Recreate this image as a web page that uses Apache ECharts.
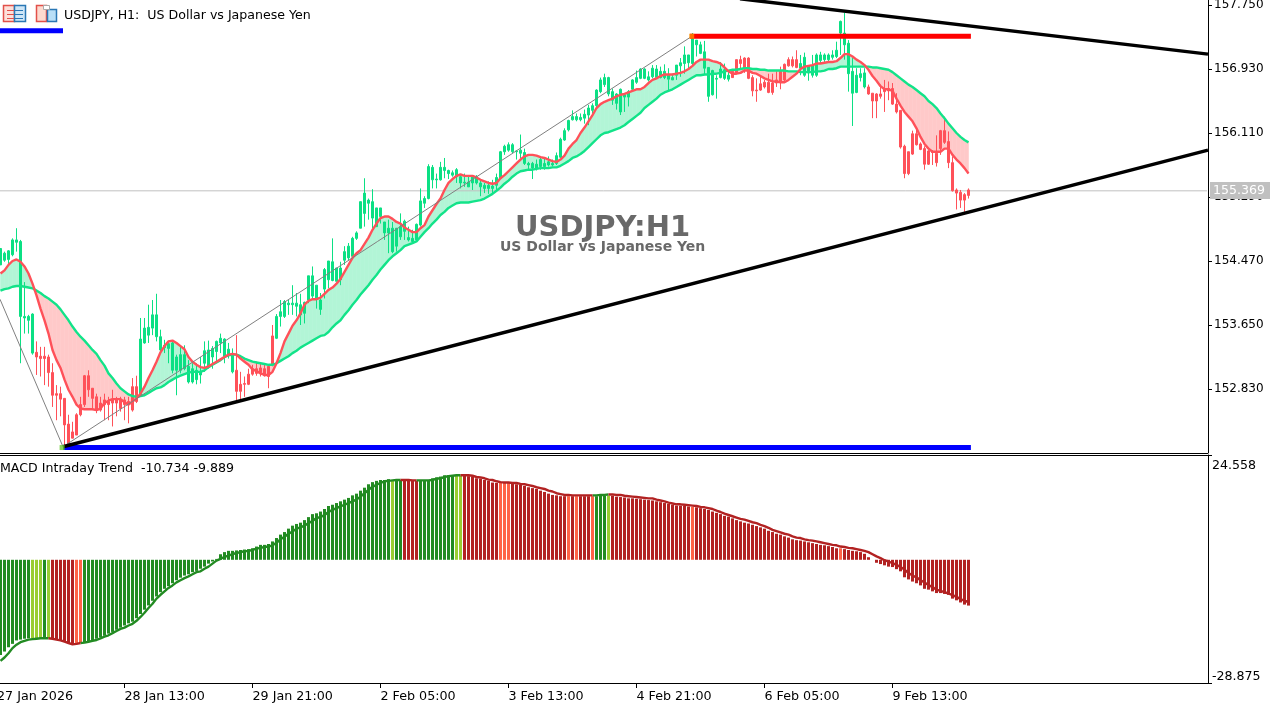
<!DOCTYPE html>
<html>
<head>
<meta charset="utf-8">
<style>
  html, body { margin: 0; padding: 0; background: #fff; overflow: hidden; }
  #chart { width: 1284px; height: 703px; }
</style>
<script src="https://cdn.jsdelivr.net/npm/echarts@6/dist/echarts.min.js"></script>
</head>
<body>
<div id="chart"></div>
<script>
var FONT = "DejaVu Sans";

var tickBars = [0, 31, 63, 95, 127, 159, 191, 223];
var tickLabels = ["27 Jan 2026", "28 Jan 13:00", "29 Jan 21:00", "2 Feb 05:00", "3 Feb 13:00", "4 Feb 21:00", "6 Feb 05:00", "9 Feb 13:00"];
var priceTicks = [152.83, 153.65, 154.47, 155.29, 156.11, 156.93, 157.75];
var macdTicks = [-28.875, 24.558];
var lastPrice = 155.369;

// candle colour runs: g = trend up, r = trend down
var trendRuns = ["g", 9, "r", 26, "g", 24, "r", 10, "g", 114, "r", 17, "g", 17, "r", 26];

var highs = [
  154.63,154.59,154.61,154.76,154.89,154.74,154.20,153.78,153.80,153.44,
  153.37,153.37,153.27,153.16,152.88,152.86,152.71,152.50,152.41,152.52,
  152.73,153.01,153.07,152.84,152.77,152.73,152.77,152.73,152.82,152.73,
  152.73,152.73,152.73,152.97,153.00,153.74,153.74,153.91,153.97,154.05,
  153.59,153.46,153.45,153.45,153.27,153.37,153.39,153.20,153.16,153.16,
  153.24,153.44,153.45,153.38,153.45,153.54,153.48,153.42,153.35,153.52,
  153.05,152.99,153.09,153.14,153.18,153.16,153.16,153.14,153.65,153.79,
  153.97,153.97,153.97,154.16,154.06,154.05,153.95,154.28,154.40,154.16,
  154.06,154.38,154.47,154.76,154.38,154.46,154.66,154.70,154.78,154.85,
  155.23,155.53,155.27,155.39,155.15,155.15,154.97,155.00,154.97,154.89,
  155.08,155.00,154.91,154.87,154.95,155.40,155.30,155.71,155.70,155.59,
  155.74,155.79,155.64,155.63,155.66,155.57,155.59,155.57,155.57,155.57,
  155.51,155.47,155.49,155.51,155.59,155.88,155.96,155.99,155.98,155.89,
  156.09,155.91,155.74,155.74,155.77,155.81,155.79,155.81,155.77,155.86,
  156.05,156.17,156.28,156.40,156.36,156.36,156.41,156.47,156.49,156.67,
  156.82,156.87,156.83,156.68,156.62,156.68,156.60,156.66,156.80,156.91,
  156.94,156.94,156.90,156.98,156.98,156.96,156.99,156.94,156.87,156.98,
  157.07,157.22,157.11,157.39,157.30,157.28,157.29,156.95,156.92,156.85,
  157.02,157.00,156.90,156.90,157.05,157.10,157.08,157.08,156.85,156.81,
  156.85,156.79,156.87,156.87,156.90,156.96,157.00,157.08,157.09,157.17,
  157.11,157.14,156.98,157.11,157.13,157.15,157.13,157.13,157.17,157.28,
  157.55,157.65,157.30,157.07,156.94,156.94,156.94,156.73,156.62,156.62,
  156.73,156.79,156.77,156.75,156.62,156.40,155.96,155.87,156.14,156.15,
  155.99,155.94,155.89,155.89,156.08,156.15,156.32,156.13,155.81,155.40,
  155.38,155.34,155.40
];

var lows = [
  154.42,154.46,154.42,154.53,154.59,153.16,153.54,153.54,153.27,153.01,
  152.99,152.88,152.86,152.60,152.43,152.48,152.09,152.09,152.20,152.24,
  152.48,152.60,152.73,152.56,152.52,152.54,152.43,152.43,152.35,152.48,
  152.54,152.43,152.39,152.54,152.65,152.73,153.41,153.42,153.52,153.44,
  153.31,153.29,153.16,153.03,152.75,153.03,153.07,152.90,152.90,152.89,
  152.90,153.05,153.09,153.09,153.18,153.29,153.16,153.22,153.03,152.67,
  152.67,152.73,152.88,153.00,153.00,152.99,152.99,152.84,153.12,153.47,
  153.63,153.74,153.78,153.78,153.76,153.65,153.67,153.93,153.97,153.86,
  153.78,153.99,154.12,154.21,154.21,154.16,154.42,154.48,154.52,154.74,
  154.89,154.91,155.00,154.89,154.91,154.95,154.74,154.57,154.57,154.59,
  154.74,154.74,154.72,154.70,154.72,154.91,155.15,155.26,155.40,155.40,
  155.50,155.53,155.52,155.55,155.47,155.40,155.42,155.42,155.38,155.45,
  155.30,155.34,155.33,155.32,155.36,155.52,155.83,155.87,155.85,155.77,
  155.79,155.70,155.64,155.52,155.63,155.64,155.64,155.68,155.68,155.70,
  155.79,156.01,156.13,156.27,156.26,156.26,156.23,156.21,156.36,156.43,
  156.62,156.70,156.58,156.47,156.41,156.34,156.38,156.45,156.66,156.74,
  156.80,156.80,156.77,156.81,156.80,156.81,156.80,156.66,156.79,156.79,
  156.83,156.87,156.92,156.98,157.09,157.12,156.85,156.51,156.59,156.55,
  156.81,156.79,156.77,156.82,156.87,156.94,156.88,156.80,156.58,156.51,
  156.65,156.68,156.62,156.60,156.70,156.67,156.75,156.96,156.95,156.94,
  156.85,156.83,156.78,156.82,156.83,157.00,157.00,157.02,157.05,157.07,
  157.11,157.05,156.64,156.20,156.62,156.77,156.68,156.60,156.30,156.30,
  156.55,156.38,156.53,156.47,156.36,155.91,155.53,155.57,155.83,155.95,
  155.89,155.64,155.70,155.70,155.68,155.83,155.97,155.66,155.36,155.13,
  155.15,155.10,155.27
];

var bodyTops = [
  154.63,154.57,154.60,154.74,154.74,154.72,153.76,153.76,153.79,153.30,
  153.25,153.25,153.24,153.04,152.77,152.77,152.71,152.38,152.28,152.50,
  152.63,153.00,153.00,152.84,152.73,152.65,152.69,152.67,152.69,152.69,
  152.69,152.69,152.67,152.86,152.86,153.47,153.61,153.62,153.78,153.78,
  153.50,153.39,153.41,153.42,153.24,153.27,153.27,153.12,153.09,153.07,
  153.05,153.32,153.33,153.35,153.44,153.48,153.47,153.34,153.27,153.07,
  152.89,152.90,153.02,153.09,153.09,153.10,153.09,153.12,153.51,153.76,
  153.82,153.95,153.93,153.93,153.93,153.91,153.94,154.28,154.28,154.16,
  153.97,154.36,154.47,154.46,154.38,154.38,154.59,154.66,154.76,154.83,
  155.23,155.34,155.25,155.23,155.15,155.15,154.97,154.89,154.89,154.89,
  154.91,154.98,154.77,154.76,154.94,155.24,155.27,155.68,155.67,155.52,
  155.67,155.67,155.63,155.60,155.64,155.55,155.48,155.48,155.55,155.55,
  155.47,155.44,155.44,155.43,155.54,155.87,155.94,155.96,155.96,155.88,
  155.89,155.86,155.72,155.72,155.71,155.77,155.72,155.74,155.72,155.82,
  156.03,156.14,156.27,156.32,156.32,156.31,156.35,156.43,156.46,156.66,
  156.79,156.82,156.82,156.64,156.61,156.67,156.60,156.64,156.79,156.82,
  156.93,156.93,156.83,156.94,156.93,156.90,156.90,156.85,156.82,156.98,
  157.01,157.11,157.11,157.32,157.30,157.24,157.15,156.95,156.91,156.81,
  156.93,156.92,156.85,156.90,157.05,157.05,157.07,157.07,156.82,156.66,
  156.74,156.76,156.76,156.75,156.79,156.90,156.99,157.05,157.05,157.05,
  157.00,157.08,156.97,156.97,157.11,157.11,157.11,157.11,157.11,157.17,
  157.54,157.39,157.26,156.90,156.85,156.87,156.88,156.70,156.62,156.61,
  156.61,156.68,156.68,156.68,156.48,156.40,155.94,155.87,156.10,156.10,
  155.97,155.91,155.88,155.87,155.85,156.14,156.14,156.00,155.73,155.38,
  155.35,155.32,155.38
];

var bodyBottoms = [
  154.42,154.48,154.49,154.55,154.71,153.76,153.74,153.71,153.29,153.24,
  153.22,153.22,153.04,152.75,152.75,152.70,152.37,152.11,152.20,152.24,
  152.50,152.63,152.82,152.71,152.56,152.56,152.63,152.63,152.65,152.65,
  152.58,152.63,152.63,152.56,152.67,152.75,153.42,153.52,153.61,153.50,
  153.33,153.36,153.35,153.07,153.07,153.07,153.09,152.92,152.92,152.95,
  153.01,153.16,153.12,153.24,153.31,153.42,153.24,153.27,153.05,152.80,
  152.80,152.89,152.89,153.02,153.03,153.04,153.00,152.99,153.14,153.48,
  153.76,153.76,153.91,153.91,153.89,153.78,153.80,153.97,154.02,153.98,
  153.85,154.11,154.23,154.22,154.21,154.23,154.48,154.51,154.53,154.76,
  154.89,155.08,155.21,155.02,154.91,155.04,154.83,154.83,154.59,154.66,
  154.78,154.85,154.74,154.72,154.74,154.93,155.21,155.27,155.51,155.51,
  155.51,155.63,155.59,155.57,155.55,155.47,155.47,155.42,155.47,155.47,
  155.42,155.40,155.40,155.40,155.44,155.53,155.87,155.89,155.87,155.87,
  155.85,155.72,155.70,155.66,155.66,155.68,155.68,155.70,155.70,155.72,
  155.80,156.02,156.15,156.28,156.28,156.28,156.30,156.34,156.40,156.46,
  156.64,156.73,156.61,156.53,156.49,156.38,156.57,156.57,156.67,156.76,
  156.81,156.81,156.79,156.83,156.82,156.82,156.82,156.80,156.79,156.85,
  156.97,157.00,157.01,157.00,157.24,157.13,156.94,156.58,156.60,156.80,
  156.82,156.81,156.80,156.82,156.88,157.00,156.94,156.81,156.65,156.65,
  156.66,156.70,156.63,156.63,156.75,156.77,156.79,156.97,156.97,156.95,
  156.94,156.85,156.88,156.85,156.85,157.04,157.05,157.05,157.08,157.09,
  157.39,157.24,156.87,156.62,156.63,156.82,156.70,156.61,156.52,156.52,
  156.58,156.64,156.65,156.48,156.38,155.93,155.59,155.59,155.84,155.96,
  155.90,155.71,155.71,155.86,155.73,155.91,155.99,155.73,155.37,155.34,
  155.25,155.25,155.31
];

var fastMA = [
  154.31,154.35,154.42,154.47,154.49,154.46,154.40,154.31,154.18,154.03,
  153.86,153.71,153.54,153.33,153.20,153.10,152.95,152.82,152.73,152.63,
  152.58,152.57,152.57,152.57,152.56,152.58,152.65,152.68,152.70,152.70,
  152.70,152.66,152.63,152.67,152.71,152.77,152.86,152.97,153.07,153.18,
  153.30,153.38,153.44,153.45,153.42,153.38,153.34,153.24,153.18,153.14,
  153.11,153.10,153.12,153.15,153.18,153.21,153.24,153.27,153.28,153.27,
  153.22,153.18,153.14,153.08,153.06,153.03,153.01,153.01,153.05,153.16,
  153.29,153.44,153.54,153.64,153.71,153.80,153.91,153.96,153.98,153.98,
  154.00,154.05,154.10,154.13,154.18,154.24,154.33,154.42,154.51,154.57,
  154.61,154.69,154.77,154.87,154.95,155.02,155.04,155.04,155.01,154.97,
  154.95,154.90,154.87,154.84,154.84,154.89,154.93,155.04,155.12,155.20,
  155.27,155.38,155.47,155.52,155.56,155.58,155.56,155.56,155.56,155.54,
  155.51,155.49,155.47,155.46,155.47,155.53,155.57,155.62,155.67,155.72,
  155.77,155.81,155.83,155.83,155.82,155.80,155.79,155.77,155.75,155.74,
  155.77,155.82,155.91,155.97,156.02,156.11,156.18,156.26,156.34,156.43,
  156.48,156.51,156.53,156.55,156.58,156.60,156.61,156.63,156.65,156.67,
  156.67,156.70,156.75,156.79,156.81,156.84,156.86,156.86,156.86,156.87,
  156.88,156.90,156.93,156.97,157.02,157.05,157.05,157.05,157.03,157.02,
  157.00,156.95,156.90,156.87,156.87,156.88,156.91,156.91,156.88,156.87,
  156.84,156.81,156.79,156.77,156.77,156.76,156.76,156.79,156.83,156.87,
  156.93,156.96,156.97,156.98,157.00,157.00,157.01,157.02,157.02,157.03,
  157.07,157.12,157.12,157.09,157.05,157.02,156.98,156.92,156.84,156.78,
  156.71,156.67,156.67,156.65,156.55,156.46,156.38,156.32,156.26,156.17,
  156.06,155.97,155.91,155.87,155.87,155.87,155.91,155.91,155.83,155.77,
  155.72,155.66,155.59
];

var slowMA = [
  154.09,154.11,154.12,154.14,154.15,154.15,154.14,154.13,154.12,154.09,
  154.06,154.02,153.99,153.95,153.91,153.85,153.78,153.71,153.63,153.56,
  153.50,153.45,153.39,153.33,153.28,153.20,153.13,153.03,152.97,152.90,
  152.84,152.80,152.76,152.74,152.73,152.74,152.75,152.78,152.81,152.84,
  152.85,152.88,152.92,152.95,152.98,153.00,153.02,153.04,153.05,153.05,
  153.05,153.07,153.11,153.14,153.17,153.20,153.24,153.26,153.27,153.27,
  153.25,153.22,153.20,153.18,153.17,153.16,153.15,153.14,153.14,153.16,
  153.19,153.22,153.25,153.29,153.32,153.36,153.39,153.42,153.45,153.48,
  153.51,153.52,153.56,153.62,153.67,153.71,153.78,153.84,153.91,153.97,
  154.04,154.10,154.16,154.23,154.29,154.36,154.42,154.48,154.53,154.57,
  154.61,154.66,154.68,154.70,154.72,154.78,154.84,154.89,154.95,155.00,
  155.06,155.10,155.15,155.18,155.21,155.22,155.22,155.22,155.23,155.24,
  155.25,155.27,155.30,155.33,155.37,155.41,155.46,155.50,155.55,155.59,
  155.62,155.63,155.64,155.64,155.65,155.66,155.66,155.66,155.67,155.67,
  155.69,155.72,155.75,155.79,155.81,155.84,155.88,155.93,155.98,156.03,
  156.08,156.11,156.12,156.14,156.16,156.18,156.21,156.25,156.29,156.33,
  156.37,156.43,156.47,156.51,156.55,156.60,156.63,156.65,156.67,156.70,
  156.73,156.76,156.79,156.82,156.85,156.85,156.86,156.86,156.87,156.87,
  156.88,156.90,156.91,156.92,156.92,156.93,156.94,156.94,156.93,156.93,
  156.92,156.92,156.91,156.91,156.91,156.91,156.91,156.90,156.90,156.90,
  156.89,156.89,156.89,156.89,156.90,156.90,156.91,156.93,156.93,156.94,
  156.96,156.96,156.96,156.96,156.96,156.96,156.96,156.96,156.95,156.95,
  156.94,156.93,156.92,156.89,156.85,156.81,156.77,156.73,156.70,156.66,
  156.62,156.58,156.52,156.48,156.43,156.36,156.30,156.23,156.17,156.11,
  156.06,156.02,155.99
];

var macdHist = [
  -22.3,-21.5,-20.5,-19.7,-18.9,-18.7,-18.5,-18.4,-18.4,-18.4,
  -18.4,-18.4,-18.4,-18.4,-18.6,-18.8,-19.1,-19.5,-19.6,-19.7,
  -19.5,-19.4,-19.1,-18.8,-18.5,-18.2,-17.8,-17.3,-16.9,-16.4,
  -15.9,-15.4,-14.9,-14.5,-13.7,-12.7,-11.7,-10.7,-9.6,-8.6,
  -7.6,-6.8,-6.2,-5.5,-4.8,-4.2,-3.7,-3.4,-2.9,-2.6,
  -2.1,-1.6,-0.9,-0.4,0.2,1.3,1.8,2.1,2.1,2.2,
  2.3,2.4,2.5,2.7,3.1,3.5,3.5,3.7,4.3,5.1,
  5.9,6.5,7.3,8.0,8.4,8.7,9.3,10.0,10.7,10.9,
  11.3,11.9,12.6,12.9,13.3,13.7,14.1,14.5,15.1,15.5,
  16.2,16.9,17.7,18.2,18.5,18.7,18.7,18.9,18.7,18.7,
  18.7,18.8,18.7,18.6,18.5,18.6,18.7,18.7,19.1,19.3,
  19.5,19.8,19.8,19.8,19.7,19.7,19.8,19.6,19.5,19.1,
  19.0,18.7,18.5,18.1,18.0,18.0,18.0,18.0,17.8,17.7,
  17.6,17.3,17.0,16.8,16.6,16.2,15.9,15.5,15.2,15.1,
  14.9,14.9,14.9,14.9,14.9,14.9,14.9,14.9,14.9,14.9,
  15.0,15.0,15.0,15.0,14.8,14.7,14.6,14.4,14.4,14.3,
  14.2,14.1,14.0,13.9,13.7,13.5,13.3,13.1,12.9,12.7,
  12.7,12.6,12.5,12.4,12.3,12.1,11.9,11.7,11.3,11.0,
  10.7,10.3,10.1,9.7,9.3,9.0,8.7,8.5,8.2,7.9,
  7.6,7.3,6.8,6.5,6.1,5.9,5.5,5.2,4.8,4.6,
  4.5,4.3,4.1,3.9,3.7,3.5,3.4,3.2,3.0,2.7,
  2.7,2.5,2.3,2.1,2.0,1.8,1.4,0.6,0.0,-0.7,
  -1.0,-1.3,-1.6,-1.7,-2.2,-2.7,-4.1,-4.6,-5.1,-5.5,
  -6.0,-6.8,-7.0,-7.4,-7.8,-7.8,-8.0,-8.2,-9.1,-9.5,
  -10.0,-10.5,-10.73
];

var macdSignal = [
  -23.7,-22.9,-21.9,-20.7,-19.9,-19.3,-19.0,-18.7,-18.6,-18.5,
  -18.4,-18.4,-18.4,-18.5,-18.7,-18.9,-19.2,-19.5,-19.8,-19.7,
  -19.5,-19.4,-19.2,-19.0,-18.8,-18.4,-18.0,-17.7,-17.2,-16.7,
  -16.2,-15.9,-15.4,-15.0,-14.3,-13.4,-12.4,-11.3,-10.3,-9.1,
  -8.2,-7.4,-6.6,-6.0,-5.3,-4.8,-4.3,-3.9,-3.4,-2.9,
  -2.7,-2.1,-1.6,-0.9,-0.2,0.2,0.7,1.0,1.3,1.6,
  1.8,2.0,2.1,2.3,2.6,2.8,3.0,3.1,3.4,4.0,
  4.8,5.4,6.1,6.6,7.3,7.6,8.0,8.6,9.1,9.8,
  10.0,10.5,11.2,11.7,12.1,12.5,12.9,13.3,13.7,14.1,
  14.8,15.6,16.4,17.1,17.6,18.0,18.4,18.5,18.6,18.7,
  18.7,18.7,18.7,18.6,18.6,18.6,18.6,18.6,18.7,19.0,
  19.1,19.4,19.6,19.7,19.8,19.8,19.8,19.8,19.7,19.4,
  19.3,19.1,18.8,18.7,18.4,18.2,18.1,18.1,18.0,18.0,
  17.8,17.7,17.5,17.3,17.0,16.8,16.6,16.2,16.0,15.6,
  15.4,15.2,15.2,15.1,15.1,15.1,15.1,15.1,15.1,15.1,
  15.2,15.2,15.3,15.3,15.2,15.2,15.0,14.9,14.8,14.7,
  14.6,14.5,14.4,14.4,14.1,13.9,13.7,13.4,13.2,13.0,
  13.0,12.9,12.8,12.7,12.6,12.4,12.3,12.1,11.9,11.5,
  11.2,10.8,10.5,10.2,9.9,9.6,9.4,9.1,8.8,8.6,
  8.2,7.9,7.5,7.0,6.7,6.4,6.1,5.9,5.5,5.2,
  5.1,4.8,4.6,4.5,4.3,4.1,3.9,3.7,3.5,3.4,
  3.1,3.0,2.8,2.7,2.5,2.3,2.1,1.8,1.3,0.8,
  0.4,-0.1,-0.4,-0.8,-1.2,-1.7,-2.3,-3.1,-3.7,-4.1,
  -4.8,-5.3,-5.9,-6.4,-7.0,-7.3,-7.6,-7.9,-8.3,-8.7,
  -9.2,-9.6,-9.89
];

// histogram colour runs: g/l = green/light green, r/t = red/tomato
var histRuns = ["g",8,"l",3,"g",1,"l",1,"r",6,"t",2,"g",77,"l",1,"g",2,"r",4,"g",9,"l",2,"r",9,"t",3,"r",14,"t",1,"r",1,"t",1,"r",3,"t",1,"g",3,"l",1,"r",20,"t",1,"r",36,"t",1,"r",32];

// drawn objects, x in bars, y in price
var lowerTrend = [[15.625, 152.09], [301.875, 155.89]];
var upperTrend = [[184.875, 157.83], [301.875, 157.12]];
var zigzagA = [[-0.125, 153.98], [15.625, 152.09]];
var zigzagB = [[15.625, 152.09], [172.875, 157.35]];
var blueLevel = [[15.625, 152.08], [242.6, 152.08]];
var blueStub = [[-0.5, 157.42], [15.625, 157.42]];
var redLevel = [[172.4, 157.35], [242.6, 157.35]];
var priceLine = [[-0.5, lastPrice], [301.875, lastPrice]];

var GREEN = "#0BE084";
var RED = "#FF5159";
var histColors = { g: "#228B22", l: "#9ACD32", r: "#B22222", t: "#FF6347" };

function expandRuns(runs) {
  var out = [];
  for (var r = 0; r < runs.length; r += 2) {
    for (var n = 0; n < runs[r + 1]; n++) out.push(runs[r]);
  }
  return out;
}

var trend = expandRuns(trendRuns);
var histFlags = expandRuns(histRuns);

function isUpBar(k) {
  return histFlags[k] === "g" || histFlags[k] === "l";
}

var categories = [];
var candleData = [];
var histData = [];
var signalUp = [];
var signalDown = [];
for (var i = 0; i < 302; i++) {
  var t = tickBars.indexOf(i);
  categories.push(t > 0 ? tickLabels[t] : "");
}
for (var j = 0; j < highs.length; j++) {
  candleData.push(trend[j] === "g"
    ? [bodyBottoms[j], bodyTops[j], lows[j], highs[j]]
    : [bodyTops[j], bodyBottoms[j], lows[j], highs[j]]);
  histData.push({ value: macdHist[j], itemStyle: { color: histColors[histFlags[j]] } });
  var isUp = isUpBar(j);
  var nextUp = j + 1 < histFlags.length ? isUpBar(j + 1) : isUp;
  signalUp.push(isUp || nextUp ? macdSignal[j] : null);
  signalDown.push(!isUp || !nextUp ? macdSignal[j] : null);
}

function renderCloud(params, api) {
  var k = api.value(0);
  if (k >= fastMA.length - 1) return;
  var d0 = fastMA[k] - slowMA[k];
  var d1 = fastMA[k + 1] - slowMA[k + 1];
  function poly(points, color) {
    return { type: "polygon", shape: { points: points }, style: { fill: color, stroke: color, lineWidth: 0.6 } };
  }
  var colorOf = function(d) { return d >= 0 ? "#B2F5D6" : "#FFC9C9"; };
  var a0 = api.coord([k, fastMA[k]]), b0 = api.coord([k, slowMA[k]]);
  var a1 = api.coord([k + 1, fastMA[k + 1]]), b1 = api.coord([k + 1, slowMA[k + 1]]);
  if (d0 * d1 >= 0) {
    return poly([a0, a1, b1, b0], colorOf(d0 + d1));
  }
  var f = d0 / (d0 - d1);
  var c = [a0[0] + (a1[0] - a0[0]) * f, a0[1] + (a1[1] - a0[1]) * f];
  return { type: "group", children: [poly([a0, c, b0], colorOf(d0)), poly([c, a1, b1], colorOf(d1))] };
}

function objectLine(data, color, width, z) {
  return {
    type: "line", xAxisIndex: 2, yAxisIndex: 0, data: data, symbol: "none", clip: false, z: z,
    silent: true, lineStyle: { color: color, width: width, cap: "butt" }
  };
}

var chart = echarts.init(document.getElementById("chart"), null, { renderer: "canvas" });

var option = {
  animation: false,
  backgroundColor: "#fff",
  textStyle: { fontFamily: FONT },
  grid: [
    { left: -1.5, top: 0, width: 1208, height: 453, outerBoundsMode: "none" },
    { left: -1.5, top: 455, width: 1208, height: 228, outerBoundsMode: "none" }
  ],
  xAxis: [
    { type: "category", gridIndex: 0, data: categories, show: false },
    {
      type: "category", gridIndex: 1, data: categories, position: "bottom",
      axisLine: { show: false, onZero: false },
      axisTick: {
        show: true, alignWithLabel: true, length: 5, lineStyle: { color: "#000" },
        interval: function(index) { return tickBars.indexOf(index) > 0; }
      },
      axisLabel: {
        show: true, align: "left", margin: 7, color: "#000", fontFamily: FONT, fontSize: 12.7, hideOverlap: false,
        interval: function(index) { return tickBars.indexOf(index) > 0; }
      },
      splitLine: { show: false }
    },
    { type: "value", gridIndex: 0, min: -0.5, max: 301.5, show: false }
  ],
  yAxis: [
    {
      type: "value", gridIndex: 0, position: "right", offset: 1.5, min: 152.01, max: 157.814, scale: true,
      splitLine: { show: false },
      axisLine: { show: true, onZero: false, lineStyle: { color: "#000" } },
      axisTick: { show: true, length: 4, lineStyle: { color: "#000" }, customValues: priceTicks },
      axisLabel: {
        color: "#000", fontFamily: FONT, fontSize: 12, margin: 6, padding: [4, 0, 0, 0], customValues: priceTicks,
        formatter: function(v) { return v.toFixed(3); }
      }
    },
    {
      type: "value", gridIndex: 1, position: "right", offset: 1.5, min: -28.875, max: 24.558,
      splitLine: { show: false },
      axisLine: { show: true, onZero: false, lineStyle: { color: "#000" } },
      axisTick: { show: true, length: 4, lineStyle: { color: "#000" }, customValues: macdTicks },
      axisLabel: {
        color: "#000", fontFamily: FONT, fontSize: 12.6, margin: 4, lineHeight: 12, padding: [5, 0, 0, 0], customValues: macdTicks,
        verticalAlignMinLabel: "bottom", verticalAlignMaxLabel: "top",
        formatter: function(v) { return v.toFixed(3); }
      }
    }
  ],
  series: [
    {
      type: "custom", xAxisIndex: 0, yAxisIndex: 0, z: 1, silent: true, clip: true,
      renderItem: renderCloud,
      data: fastMA.map(function(v, k) { return [k, v, slowMA[k]]; }),
      encode: { x: 0, y: [1, 2] }
    },
    objectLine(priceLine, "#C0C0C0", 1, 2),
    {
      type: "candlestick", xAxisIndex: 0, yAxisIndex: 0, z: 3, silent: true, clip: false,
      barWidth: 2, data: candleData,
      itemStyle: { color: GREEN, color0: RED, borderColor: GREEN, borderColor0: RED, borderWidth: 1 }
    },
    {
      type: "line", xAxisIndex: 0, yAxisIndex: 0, data: slowMA, symbol: "none", z: 4, silent: true,
      lineStyle: { color: "#12E389", width: 2.4 }
    },
    {
      type: "line", xAxisIndex: 0, yAxisIndex: 0, data: fastMA, symbol: "none", z: 5, silent: true,
      lineStyle: { color: RED, width: 2.4 }
    },
    objectLine(zigzagA, "#808080", 1, 6),
    objectLine(zigzagB, "#808080", 1, 6),
    objectLine(blueLevel, "#0000FF", 5, 7),
    objectLine(blueStub, "#0000FF", 5, 7),
    objectLine(redLevel, "#FF0000", 5, 7),
    objectLine(lowerTrend, "#000000", 3.4, 8),
    objectLine(upperTrend, "#000000", 3.4, 8),
    {
      type: "scatter", xAxisIndex: 2, yAxisIndex: 0, z: 9, silent: true, symbol: "rect", symbolSize: 5,
      data: [{ value: [172.8, 157.35], itemStyle: { color: "#FF8C00" } }, { value: [15.4, 152.08], itemStyle: { color: "#6ACD32" } }]
    },
    {
      type: "bar", xAxisIndex: 1, yAxisIndex: 1, barWidth: 3, data: histData, z: 2, silent: true
    },
    {
      type: "line", xAxisIndex: 1, yAxisIndex: 1, data: signalUp, symbol: "none", z: 3, silent: true,
      lineStyle: { color: histColors.g, width: 2.4 }
    },
    {
      type: "line", xAxisIndex: 1, yAxisIndex: 1, data: signalDown, symbol: "none", z: 3, silent: true,
      lineStyle: { color: histColors.r, width: 2.4 }
    }
  ],
  graphic: [
    // pane borders
    { type: "line", shape: { x1: 0, y1: 453.5, x2: 1208, y2: 453.5 }, style: { stroke: "#000", lineWidth: 1 }, z: 20 },
    { type: "line", shape: { x1: 0, y1: 455.5, x2: 1208, y2: 455.5 }, style: { stroke: "#000", lineWidth: 1 }, z: 20 },
    { type: "line", shape: { x1: 0, y1: 683.5, x2: 1208, y2: 683.5 }, style: { stroke: "#000", lineWidth: 1 }, z: 20 },
    // header icons
    { type: "rect", shape: { x: 3.5, y: 5.5, width: 11, height: 16 }, style: { fill: "#fde0da", stroke: "#e2504a", lineWidth: 1.5 }, z: 21 },
    { type: "rect", shape: { x: 14.5, y: 5.5, width: 11, height: 16 }, style: { fill: "#cfe6f7", stroke: "#2a77b5", lineWidth: 1.5 }, z: 21 },
    { type: "rect", shape: { x: 7, y: 10, width: 7, height: 1 }, style: { fill: "#e2504a" }, z: 22 },
    { type: "rect", shape: { x: 7, y: 14, width: 7, height: 1 }, style: { fill: "#e2504a" }, z: 22 },
    { type: "rect", shape: { x: 7, y: 18, width: 7, height: 1 }, style: { fill: "#e2504a" }, z: 22 },
    { type: "rect", shape: { x: 15, y: 10, width: 8, height: 1 }, style: { fill: "#2a77b5" }, z: 22 },
    { type: "rect", shape: { x: 15, y: 14, width: 8, height: 1 }, style: { fill: "#2a77b5" }, z: 22 },
    { type: "rect", shape: { x: 15, y: 18, width: 8, height: 1 }, style: { fill: "#2a77b5" }, z: 22 },
    { type: "rect", shape: { x: 36.5, y: 5.5, width: 10, height: 16 }, style: { fill: "#fdd9cf", stroke: "#e2504a", lineWidth: 1.5 }, z: 21 },
    { type: "rect", shape: { x: 47.5, y: 9.5, width: 9, height: 12 }, style: { fill: "#b9dff7", stroke: "#2a77b5", lineWidth: 1.5 }, z: 21 },
    { type: "rect", shape: { x: 43.5, y: 5.5, width: 6, height: 4 }, style: { fill: "#fff", stroke: "#aaa", lineWidth: 1 }, z: 22 },
    // texts
    {
      type: "text", x: 64, y: 9, z: 21,
      style: { text: "USDJPY, H1:  US Dollar vs Japanese Yen", fill: "#000", font: "12.6px " + FONT }
    },
    {
      type: "text", x: 0, y: 462, z: 21,
      style: { text: "MACD Intraday Trend  -10.734 -9.889", fill: "#000", font: "12.6px " + FONT }
    },
    {
      type: "text", x: -3, y: 690, z: 21,
      style: { text: tickLabels[0], fill: "#000", font: "12.7px " + FONT }
    },
    {
      type: "text", x: 515, y: 214, z: 21,
      style: { text: "USDJPY:H1", fill: "#696969", font: "bold 29px " + FONT }
    },
    {
      type: "text", x: 500, y: 240, z: 21,
      style: { text: "US Dollar vs Japanese Yen", fill: "#696969", font: "bold 14px " + FONT }
    },
    // last price box
    { type: "rect", shape: { x: 1210, y: 182, width: 60, height: 17 }, style: { fill: "#C0C0C0" }, z: 30 },
    {
      type: "text", x: 1213, y: 184, z: 31,
      style: { text: lastPrice.toFixed(3), fill: "#fff", font: "12.6px " + FONT }
    }
  ]
};

chart.setOption(option);
</script>
</body>
</html>
